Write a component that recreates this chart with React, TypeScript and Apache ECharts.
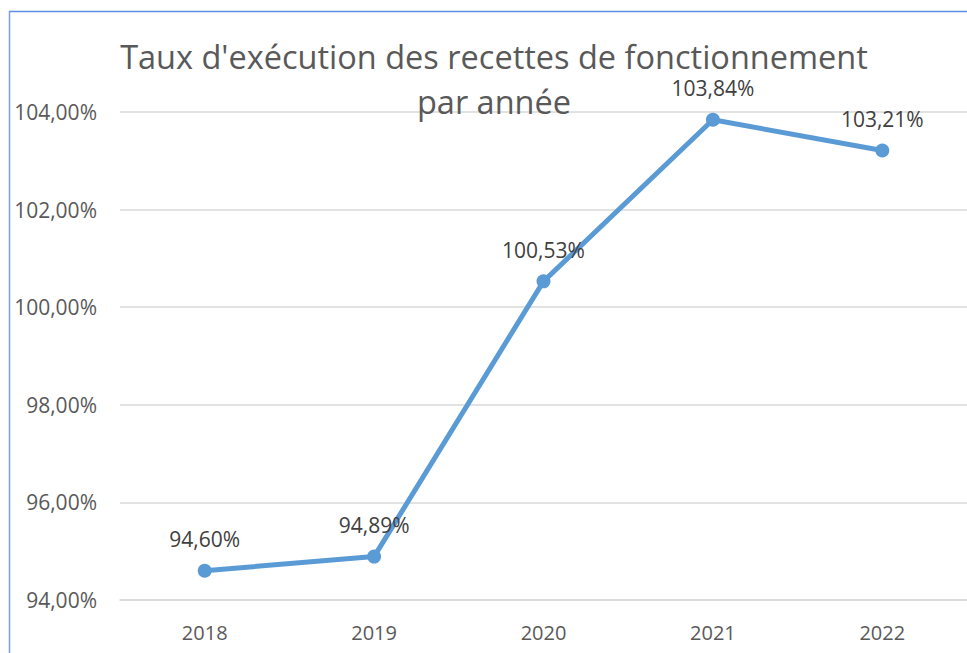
import React, { useEffect, useRef } from "react";
import * as echarts from "echarts";

const categories = ["2018", "2019", "2020", "2021", "2022"];
const rates = [94.6, 94.89, 100.53, 103.84, 103.21];
const yMin = 94;
const yMax = 104;
const yStep = 2;
const titleLines = ["Taux d'exécution des recettes de fonctionnement", "par année"];

const fmt = (v: number) => v.toFixed(2).replace(".", ",") + "%";
const FONT = "'Open Sans', Lato, sans-serif";

export default function App() {
  const ref = useRef<HTMLDivElement>(null);
  useEffect(() => {
    if (!ref.current) return;
    const chart = echarts.init(ref.current, undefined, { renderer: "svg" });
    const titleTops = [41, 86];
    chart.setOption({
      animation: false,
      backgroundColor: "#ffffff",
      textStyle: { fontFamily: FONT },
      title: titleLines.map((t, i) => ({
        text: t,
        left: 494,
        top: titleTops[i],
        padding: 0,
        textAlign: "center",
        textStyle: {
          fontFamily: FONT,
          fontSize: 32.5,
          fontWeight: "normal",
          color: "#595959",
          lineHeight: 30,
        },
      })),
      graphic: [
        {
          type: "line",
          shape: { x1: 9, y1: 11.5, x2: 967, y2: 11.5 },
          style: { stroke: "#5b8fe3", lineWidth: 1.5 },
          z: 100,
        },
        {
          type: "line",
          shape: { x1: 9.5, y1: 11, x2: 9.5, y2: 653 },
          style: { stroke: "#7a9fe6", lineWidth: 1.5 },
          z: 100,
        },
      ],
      grid: { left: 120, top: 112, width: 857, height: 488, containLabel: false },
      xAxis: {
        type: "category",
        data: categories,
        boundaryGap: true,
        axisLine: { show: true, lineStyle: { color: "#d9d9d9", width: 1.5 } },
        axisTick: { show: false },
        axisLabel: { color: "#595959", fontSize: 20, fontFamily: FONT, margin: 22 },
      },
      yAxis: {
        type: "value",
        min: yMin,
        max: yMax,
        interval: yStep,
        axisLine: { show: false },
        axisTick: { show: false },
        splitLine: { lineStyle: { color: "#d9d9d9", width: 1.5 } },
        axisLabel: {
          color: "#595959",
          fontSize: 21,
          fontFamily: FONT,
          margin: 23,
          formatter: (v: number) => fmt(v),
        },
      },
      series: [
        {
          type: "line",
          data: rates,
          symbol: "circle",
          symbolSize: 14,
          lineStyle: { color: "#5b9bd5", width: 5 },
          itemStyle: { color: "#5b9bd5" },
          label: {
            show: true,
            position: "top",
            distance: 14,
            color: "#404040",
            fontSize: 21,
            fontFamily: FONT,
            formatter: (p: any) => fmt(p.value),
          },
        },
      ],
    });
    return () => chart.dispose();
  }, []);
  return (
    <div
      ref={ref}
      style={{ position: "absolute", left: 0, top: 0, width: 967, height: 653 }}
    />
  );
}
